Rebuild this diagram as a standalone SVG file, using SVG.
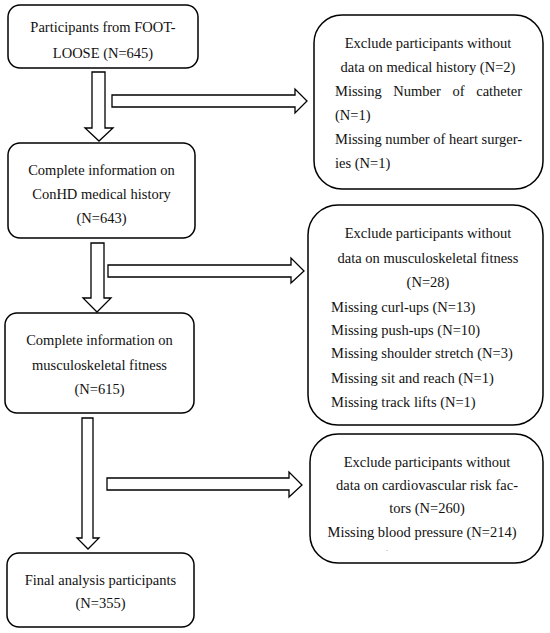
<svg xmlns="http://www.w3.org/2000/svg" width="550" height="633" viewBox="0 0 550 633">
<style>
.box{fill:#fff;stroke:#000;stroke-width:1.5}
.arr{fill:#fff;stroke:#000;stroke-width:1.3;stroke-linejoin:miter}
text{font-family:"Liberation Serif","Times New Roman",serif;font-size:14.5px;fill:#111}
.c{text-anchor:middle}
</style>
<rect width="550" height="633" fill="#fff"/>
<g id="connectors">
<polygon class="arr" points="92,72 105,72 105,128 113,128 99,141 85,128 92,128"/>
<polygon class="arr" points="112,95 295,95 295,89 307,101 295,113 295,107 112,107"/>
<polygon class="arr" points="91,243 104,243 104,298 111,298 97,312 83,298 91,298"/>
<polygon class="arr" points="108,265 291,265 291,258 304,271 291,283 291,277 108,277"/>
<polygon class="arr" points="82,418 93,418 93,538 99,538 88,549 77,538 82,538"/>
<polygon class="arr" points="107,478 289,478 289,472 302,485 289,497 289,490 107,490"/>
</g>
<g id="n1">
<rect class="box" x="8" y="5" width="190" height="63" rx="12"/>
<text class="c" x="103" y="32">Participants from FOOT-</text>
<text class="c" x="103" y="58">LOOSE (N=645)</text>
</g>
<g id="n2">
<rect class="box" x="8" y="143" width="187" height="95" rx="12"/>
<text class="c" x="101.5" y="175">Complete information on</text>
<text class="c" x="101.5" y="199">ConHD medical history</text>
<text class="c" x="101.5" y="223">(N=643)</text>
</g>
<g id="n3">
<rect class="box" x="5" y="313" width="189" height="100" rx="12"/>
<text class="c" x="99.5" y="345">Complete information on</text>
<text class="c" x="99.5" y="370">musculoskeletal fitness</text>
<text class="c" x="99.5" y="394">(N=615)</text>
</g>
<g id="n4">
<rect class="box" x="7" y="553" width="187" height="74" rx="12"/>
<text class="c" x="100.5" y="585">Final analysis participants</text>
<text class="c" x="100.5" y="608">(N=355)</text>
</g>
<g id="r1">
<rect class="box" x="314" y="15" width="229" height="174" rx="28"/>
<text class="c" x="428" y="48">Exclude participants without</text>
<text class="c" x="428" y="72">data on medical history (N=2)</text>
<text x="335" y="96" word-spacing="8">Missing Number of catheter</text>
<text x="335" y="120">(N=1)</text>
<text x="335" y="144">Missing number of heart surger-</text>
<text x="335" y="168">ies (N=1)</text>
</g>
<g id="r2">
<rect class="box" x="308" y="205" width="235" height="220" rx="30"/>
<text class="c" x="428" y="238">Exclude participants without</text>
<text class="c" x="428" y="263">data on musculoskeletal fitness</text>
<text class="c" x="428" y="287">(N=28)</text>
<text x="331" y="312">Missing curl-ups (N=13)</text>
<text x="331" y="335">Missing push-ups (N=10)</text>
<text x="331" y="358">Missing shoulder stretch (N=3)</text>
<text x="331" y="383">Missing sit and reach (N=1)</text>
<text x="331" y="407">Missing track lifts (N=1)</text>
</g>
<g id="r3">
<rect class="box" x="310" y="434" width="233" height="129" rx="28"/>
<text class="c" x="427" y="467">Exclude participants without</text>
<text class="c" x="427" y="490">data on cardiovascular risk fac-</text>
<text class="c" x="427" y="513">tors (N=260)</text>
<text class="c" x="422" y="537">Missing blood pressure (N=214)</text>
<text x="386" y="551" style="font-size:8px;fill:#888">.</text>
</g>
</svg>
